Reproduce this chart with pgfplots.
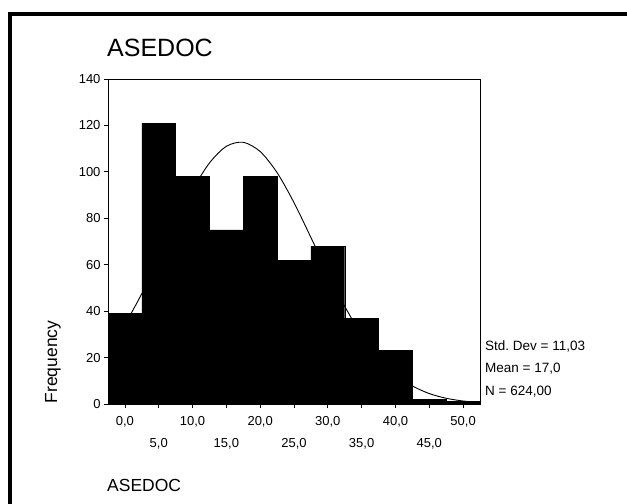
\documentclass[border=0pt]{standalone}
\usepackage{fontspec}
\setmainfont{Liberation Sans}
\usepackage{pgfplots}
\pgfplotsset{compat=1.18}
\frenchspacing
\begin{document}
\begin{tikzpicture}
\begin{axis}[
  at={(108bp,-404bp)}, anchor=south west,
  scale only axis, width=372bp, height=325bp,
  xmin=-2.5, xmax=52.5, ymin=0, ymax=140,
  xtick={0,10,...,50}, extra x ticks={5,15,...,45},
  ytick={0,20,...,140},
  tick align=outside, major tick length=4bp,
  xtick pos=left, ytick pos=left,
  axis line style={line width=1bp},
  tick style={line width=0.8bp, black},
  x tick label style={font=\fontsize{13bp}{15bp}\selectfont, yshift=-5bp,
    /pgf/number format/use comma, /pgf/number format/fixed,
    /pgf/number format/fixed zerofill, /pgf/number format/precision=1,
    /pgf/number format/assume math mode=true},
  y tick label style={font=\fontsize{13bp}{15bp}\selectfont,
    /pgf/number format/assume math mode=true},
  extra x tick style={grid=none, x tick label style={yshift=-22bp}},
]
\addplot[ybar interval, fill=black, draw=black] coordinates {
  (-2.5,39) (2.5,121) (7.5,98) (12.5,75) (17.5,98) (22.5,62)
  (27.5,68) (32.5,37) (37.5,23) (42.5,2) (47.5,1) (52.5,1)};
\addplot[smooth, black, line width=0.9bp] coordinates {
  (-2.5,23.65) (0,34.41) (2.5,47.55) (5,62.44) (7.5,77.88) (10,92.27)
  (12.5,103.83) (15,111.01) (17.5,112.73) (20,108.75) (22.5,99.66)
  (25,86.75) (27.5,71.73) (30,56.35) (32.5,42.05) (35,29.81)
  (37.5,20.06) (40,12.83) (42.5,7.80) (45,4.50) (47.5,2.47)
  (50,1.29) (52.5,0.64)};
\end{axis}
\begin{scope}[x=1bp,y=1bp]
\draw[line width=4bp] (10.3,-504) -- (10.3,-14) -- (627,-14);
\node[anchor=base west, inner sep=0pt, font=\fontsize{25bp}{30bp}\selectfont] at (107,-57) {ASEDOC};
\node[rotate=90, inner sep=0pt, font=\fontsize{17.5bp}{20bp}\selectfont] at (53,-362) {Frequency};
\node[anchor=base west, inner sep=0pt, font=\fontsize{13.5bp}{16bp}\selectfont] at (485,-350) {Std. Dev = 11,03};
\node[anchor=base west, inner sep=0pt, font=\fontsize{13.5bp}{16bp}\selectfont] at (485,-372.7) {Mean = 17,0};
\node[anchor=base west, inner sep=0pt, font=\fontsize{13.5bp}{16bp}\selectfont] at (485,-395.7) {N = 624,00};
\node[anchor=base west, inner sep=0pt, font=\fontsize{17.5bp}{20bp}\selectfont] at (107,-491.7) {ASEDOC};
\pgfresetboundingbox
\useasboundingbox (0,0) rectangle (627,-504);
\end{scope}
\end{tikzpicture}
\end{document}
